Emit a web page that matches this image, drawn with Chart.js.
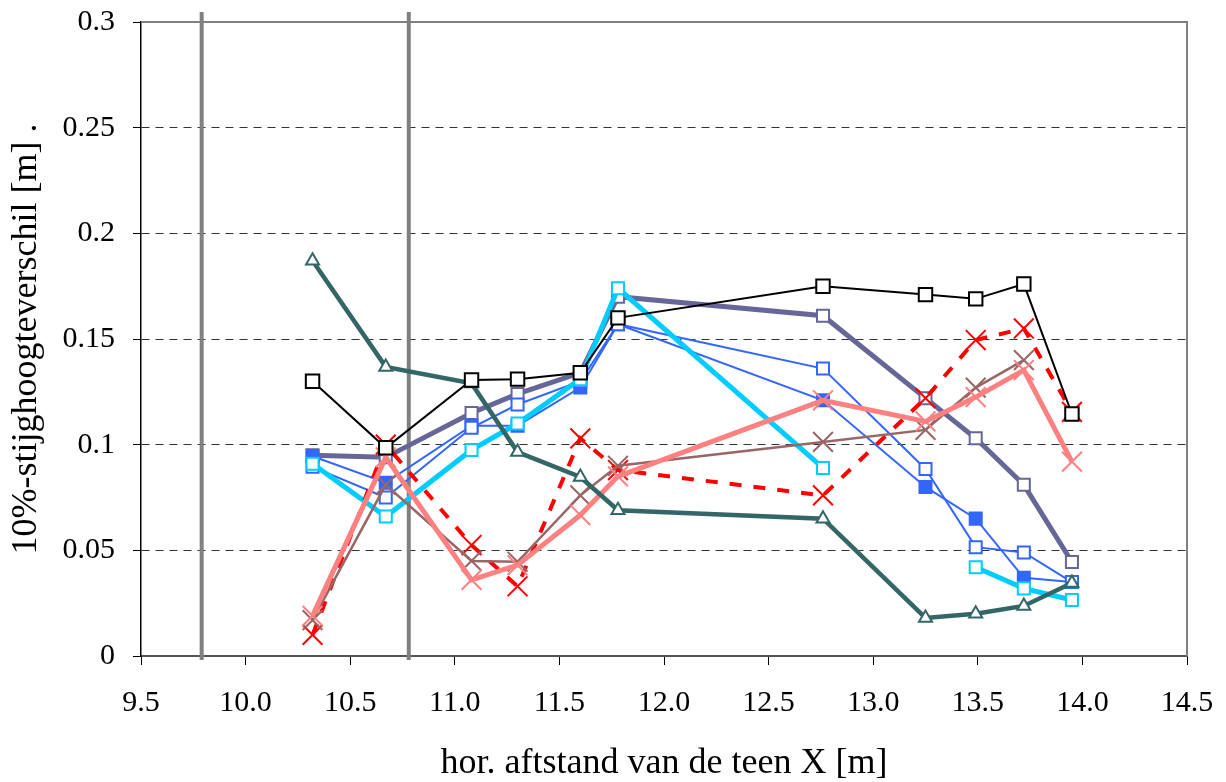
<!DOCTYPE html>
<html>
<head>
<meta charset="utf-8">
<script src="https://cdn.jsdelivr.net/npm/chart.js@4/dist/chart.umd.min.js"></script>
<style>
html,body{margin:0;padding:0;background:#fff;}
#c{display:block;}
</style>
</head>
<body>
<canvas id="c" width="1226" height="782"></canvas>
<script>
const xValues = [10.32, 10.67, 11.08, 11.30, 11.60, 11.78, 12.76, 13.25, 13.49, 13.72, 13.95];
const blackSquares  = [0.130, 0.0985, 0.1306, 0.131, 0.134, 0.160, 0.175, 0.171, 0.169, 0.176, 0.1145];
const purpleSquares = [0.095, 0.094, 0.115, 0.124, 0.134, 0.170, 0.161, 0.122, 0.103, 0.081, 0.0445];
const blueFilled    = [0.0945, 0.082, 0.109, 0.109, 0.127, 0.157, 0.121, 0.080, 0.065, 0.037, 0.035];
const blueHollow    = [0.0895, 0.075, 0.108, 0.119, 0.130, 0.157, 0.136, 0.0885, 0.0515, 0.049, 0.035];
const cyanSquares   = [0.091, 0.066, 0.0975, 0.110, 0.131, 0.174, 0.089, null, 0.042, 0.032, 0.0265];
const tealTriangles = [0.187, 0.1368, 0.129, 0.0965, 0.0847, 0.069, 0.065, 0.018, 0.020, 0.0237, 0.0345];
const redDashed     = [0.010, 0.100, 0.0525, 0.033, 0.103, 0.088, 0.076, 0.122, 0.1495, 0.155, 0.1155];
const brownCrosses  = [0.017, 0.081, 0.045, 0.0446, 0.076, 0.090, 0.1013, 0.107, 0.127, 0.140, null];
const salmonCrosses = [0.019, 0.094, 0.036, 0.043, 0.0667, 0.085, 0.121, 0.111, 0.1225, 0.1353, 0.092];
const refLinesX = [9.79, 10.78];
const xTickMin = 9.5, xTickMax = 14.5, xTickStep = 0.5;
const yTickMin = 0, yTickMax = 0.3, yTickStep = 0.05;

const pts = arr => xValues.map((x, i) => ({x: x, y: arr[i]}));
const FONT = "'Liberation Serif', 'Times New Roman', serif";

const refLinePlugin = {
  id: 'refLines',
  beforeDatasetsDraw(chart) {
    const {ctx, chartArea, scales} = chart;
    ctx.save();
    ctx.strokeStyle = '#808080';
    ctx.lineWidth = 2;
    ctx.beginPath();
    ctx.moveTo(chartArea.left, chartArea.top);
    ctx.lineTo(chartArea.right, chartArea.top);
    ctx.lineTo(chartArea.right, chartArea.bottom);
    ctx.stroke();
    ctx.lineWidth = 4;
    refLinesX.forEach(v => {
      const px = scales.x.getPixelForValue(v);
      ctx.beginPath();
      ctx.moveTo(px, chartArea.top - 10);
      ctx.lineTo(px, chartArea.bottom + 4);
      ctx.stroke();
    });
    ctx.restore();
  }
};

function ds(label, arr, o) {
  return Object.assign({
    label: label,
    data: pts(arr),
    showLine: true,
    spanGaps: false,
    tension: 0,
    fill: false,
    pointBorderWidth: 2,
    pointHoverRadius: 0
  }, o);
}

const datasets = [
  ds('teal', tealTriangles, {order: 1, borderColor: '#336666', borderWidth: 4.5, pointStyle: 'triangle', pointRadius: 7.5, pointBorderColor: '#336666', pointBackgroundColor: '#ffffff'}),
  ds('salmon', salmonCrosses, {order: 2, borderColor: '#FF8080', borderWidth: 5, pointStyle: 'crossRot', pointRadius: 14, pointBorderColor: '#FF8080', pointBorderWidth: 2}),
  ds('brown', brownCrosses, {order: 3, borderColor: '#996666', borderWidth: 2.5, pointStyle: 'crossRot', pointRadius: 14, pointBorderColor: '#996666', pointBorderWidth: 2}),
  ds('red', redDashed, {order: 4, borderColor: '#FF0000', borderWidth: 4, borderDash: [12, 12], pointStyle: 'crossRot', pointRadius: 14, pointBorderColor: '#FF0000', pointBorderWidth: 2}),
  ds('cyan', cyanSquares, {order: 5, borderColor: '#00CCFF', borderWidth: 5, pointStyle: 'rect', pointRadius: 8.5, pointBorderColor: '#00CCFF', pointBackgroundColor: '#ffffff'}),
  ds('blueHollow', blueHollow, {order: 6, borderColor: '#3366FF', borderWidth: 2, pointStyle: 'rect', pointRadius: 8.5, pointBorderColor: '#3366FF', pointBackgroundColor: '#ffffff'}),
  ds('blueFilled', blueFilled, {order: 7, borderColor: '#3366FF', borderWidth: 2, pointStyle: 'rect', pointRadius: 8.5, pointBorderColor: '#3366FF', pointBackgroundColor: '#3366FF'}),
  ds('purple', purpleSquares, {order: 8, borderColor: '#666699', borderWidth: 5, pointStyle: 'rect', pointRadius: 8.5, pointBorderColor: '#666699', pointBackgroundColor: '#ffffff'}),
  ds('black', blackSquares, {order: 0, borderColor: '#000000', borderWidth: 2, pointStyle: 'rect', pointRadius: 9.5, pointBorderColor: '#000000', pointBackgroundColor: '#ffffff'})
];

new Chart(document.getElementById('c'), {
  type: 'scatter',
  data: {datasets: datasets},
  plugins: [refLinePlugin],
  options: {
    responsive: false,
    animation: false,
    events: [],
    layout: {padding: {top: 22, right: 39, left: 0, bottom: 0}},
    plugins: {legend: {display: false}, tooltip: {enabled: false}},
    scales: {
      x: {
        type: 'linear',
        min: xTickMin, max: xTickMax,
        afterFit(s) { s.height = 126; s.paddingLeft = 0; s.paddingRight = 0; },
        afterBuildTicks(s) {
          const t = [];
          for (let v = xTickMin; v <= xTickMax + 1e-9; v += xTickStep) t.push({value: +v.toFixed(2)});
          s.ticks = t;
        },
        ticks: {
          color: '#000',
          font: {family: FONT, size: 30},
          padding: 20,
          maxRotation: 0,
          autoSkip: false,
          callback: v => Number(v).toFixed(1)
        },
        grid: {drawOnChartArea: false, drawTicks: true, tickLength: 9, tickColor: '#000', tickWidth: 1},
        border: {display: true, color: '#555555', width: 2},
        title: {display: true, text: 'hor. aftstand van de teen X [m]', color: '#000', font: {family: FONT, size: 36, lineHeight: 1}, padding: {top: 0, bottom: 0}}
      },
      y: {
        type: 'linear',
        min: yTickMin, max: yTickMax,
        afterFit(s) { s.width = 141; s.paddingTop = 0; s.paddingBottom = 0; },
        afterBuildTicks(s) {
          const t = [];
          for (let v = yTickMin; v <= yTickMax + 1e-9; v += yTickStep) t.push({value: +v.toFixed(2)});
          s.ticks = t;
        },
        ticks: {
          color: '#000',
          font: {family: FONT, size: 30},
          padding: 18,
          autoSkip: false,
          callback: v => String(Number(Number(v).toFixed(2)))
        },
        grid: {
          drawOnChartArea: true,
          drawTicks: true,
          tickLength: 8,
          tickColor: '#000',
          color: c => (c.tick && (c.tick.value === 0 || Math.abs(c.tick.value - 0.3) < 1e-9)) ? 'rgba(0,0,0,0)' : '#333333',
          lineWidth: 1
        },
        border: {display: true, color: '#000', width: 1.5, dash: [8, 6]},
        title: {display: true, text: '10%-stijghoogteverschil [m] .', color: '#000', font: {family: FONT, size: 36}, padding: {top: 5, bottom: 0}}
      }
    }
  }
});
</script>
</body>
</html>
